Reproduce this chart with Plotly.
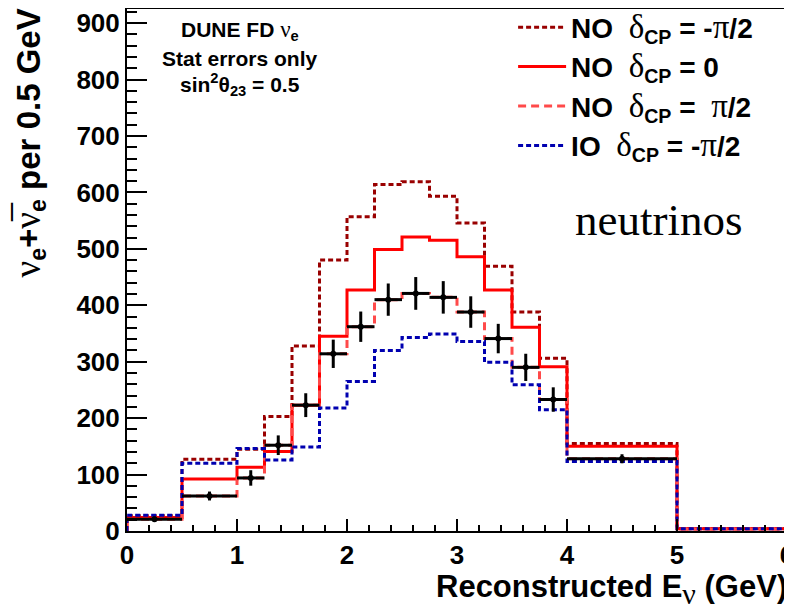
import plotly.graph_objects as go

# ---- data ----
bin_edges = [0, 0.5, 1.0, 1.25, 1.5, 1.75, 2.0, 2.25, 2.5, 2.75, 3.0, 3.25, 3.5, 3.75, 4.0, 5.0, 6.0]

no_minus_pi2 = [27, 127, 145, 203, 328, 480, 557, 614, 619, 593, 546, 469, 388, 306, 155, 4]
no_zero = [24, 92, 113, 141, 223, 345, 427, 499, 521, 515, 486, 427, 361, 291, 150, 4]
no_plus_pi2 = [21, 62, 94, 152, 223, 314, 362, 410, 421, 414, 388, 341, 290, 233, 128, 3]
io_minus_pi2 = [28, 120, 146, 126, 149, 218, 265, 320, 343, 349, 336, 299, 259, 215, 123, 4]

data_vals = [21, 62, 94, 152, 223, 314, 362, 410, 421, 414, 388, 341, 290, 233, 128]
data_errs = [4.6, 7.9, 13.7, 17.4, 21.1, 25.1, 26.9, 28.6, 29.0, 28.8, 27.9, 26.1, 24.1, 21.6, 8.0]


def g(ch, size=None):
    st = "font-family:'Liberation Serif';font-weight:normal"
    if size:
        st += f";font-size:{size}px"
    return f"<span style=\"{st}\">{ch}</span>"

labels = [
    f"NO\u00a0\u00a0{g('δ', 33)}<sub>CP</sub> = -{g('π', 33)}/2",
    f"NO\u00a0\u00a0{g('δ', 33)}<sub>CP</sub> = 0",
    f"NO\u00a0\u00a0{g('δ', 33)}<sub>CP</sub> =\u00a0\u00a0{g('π', 33)}/2",
    f"IO\u00a0\u00a0{g('δ', 33)}<sub>CP</sub> = -{g('π', 33)}/2",
]
colors = ["#990000", "#ff0000", "#ff4a4a", "#0000b0"]
dashes = ["5px,3px", "solid", "8px,5px", "5px,3px"]
series = [no_minus_pi2, no_zero, no_plus_pi2, io_minus_pi2]


def step_xy(edges, vals):
    xs = [edges[0]] + list(edges)
    ys = [0] + list(vals) + [0]
    return xs, ys


fig = go.Figure()
for lab, col, dsh, vals in zip(labels, colors, dashes, series):
    xs, ys = step_xy(bin_edges, vals)
    fig.add_trace(go.Scatter(x=xs, y=ys, mode="lines", line_shape="hv",
                             line=dict(color=col, width=3, dash=dsh), name=lab))

centers = [(bin_edges[i] + bin_edges[i + 1]) / 2 for i in range(len(data_vals))]
halfw = [(bin_edges[i + 1] - bin_edges[i]) / 2 for i in range(len(data_vals))]
fig.add_trace(go.Scatter(
    x=centers, y=data_vals, mode="markers", showlegend=False,
    marker=dict(color="black", size=6, symbol="circle"),
    error_y=dict(type="data", array=data_errs, visible=True, color="black", thickness=3, width=0),
    error_x=dict(type="data", array=halfw, visible=True, color="black", thickness=3, width=0),
))

# page is drawn with an 8px body margin: figure pixel = page pixel - 8
PLOT_L, PLOT_R, PLOT_B, PLOT_T = 127, 787, 531, 9   # page pixels
PW, PH = PLOT_R - PLOT_L, PLOT_B - PLOT_T


def px(xp):
    return (xp - PLOT_L) / PW


def py(yp):
    return (PLOT_B - yp) / PH


tickfont = dict(family="Liberation Sans", size=26, weight="bold", color="black")
fig.update_xaxes(range=[0, 6], tick0=0, dtick=1, ticks="inside", ticklen=12, tickwidth=2,
                 tickcolor="black", showline=True, linewidth=2, linecolor="black", mirror=True,
                 showgrid=False, zeroline=False, tickfont=tickfont, automargin=False,
                 ticklabeloverflow="allow",
                 minor=dict(dtick=0.2, ticklen=6, ticks="inside", tickwidth=2, tickcolor="black"))
fig.update_yaxes(range=[0, 925], tick0=0, dtick=100, ticks="inside", ticklen=20, tickwidth=2,
                 tickcolor="black", showline=True, linewidth=2, linecolor="black", mirror=True,
                 showgrid=False, zeroline=False, tickfont=tickfont, automargin=False,
                 ticklabeloverflow="allow",
                 minor=dict(dtick=20, ticklen=10, ticks="inside", tickwidth=2, tickcolor="black"))

fig.update_layout(
    width=784, height=600,
    margin=dict(l=PLOT_L - 8, r=784 - (PLOT_R - 8), t=PLOT_T - 8, b=600 - (PLOT_B - 8),
                autoexpand=False),
    plot_bgcolor="white", paper_bgcolor="white",
    legend=dict(x=0.585, y=1.0125, xanchor="left", yanchor="top", bgcolor="rgba(0,0,0,0)",
                font=dict(family="Liberation Sans", size=28, weight="bold", color="black"),
                itemwidth=48, tracegroupgap=0),
)

bold = dict(family="Liberation Sans", weight="bold", color="black")
fig.add_annotation(text=f"{g('ν', 37)}<sub>e</sub>+{g('ν̅', 37)}<sub>e</sub> per 0.5 GeV",
                   xref="paper", yref="paper", x=px(29), y=py(6),
                   xanchor="center", yanchor="top", textangle=-90, showarrow=False,
                   font=dict(size=33, **bold))
fig.add_annotation(text=f"Reconstructed E<sub>{g('ν', 30)}</sub> (GeV)",
                   xref="paper", yref="paper", x=px(789), y=py(567),
                   xanchor="right", yanchor="top", showarrow=False,
                   font=dict(size=31, **bold))

info_lines = [f"DUNE FD {g('ν', 23)}<sub>e</sub>", "Stat errors only", "sin<sup>2</sup>θ<sub>23</sub> = 0.5"]
info_y = [30, 58, 84]
for t, yy in zip(info_lines, info_y):
    fig.add_annotation(text=t, xref="paper", yref="paper", x=px(240),
                       y=py(yy), xanchor="center", yanchor="middle",
                       showarrow=False, font=dict(size=21, **bold))

fig.add_annotation(text="neutrinos", xref="paper", yref="paper", x=px(573),
                   y=py(220), xanchor="left", yanchor="middle", showarrow=False,
                   font=dict(family="Liberation Serif", size=45, color="black"))

fig.write_html("out.html")
